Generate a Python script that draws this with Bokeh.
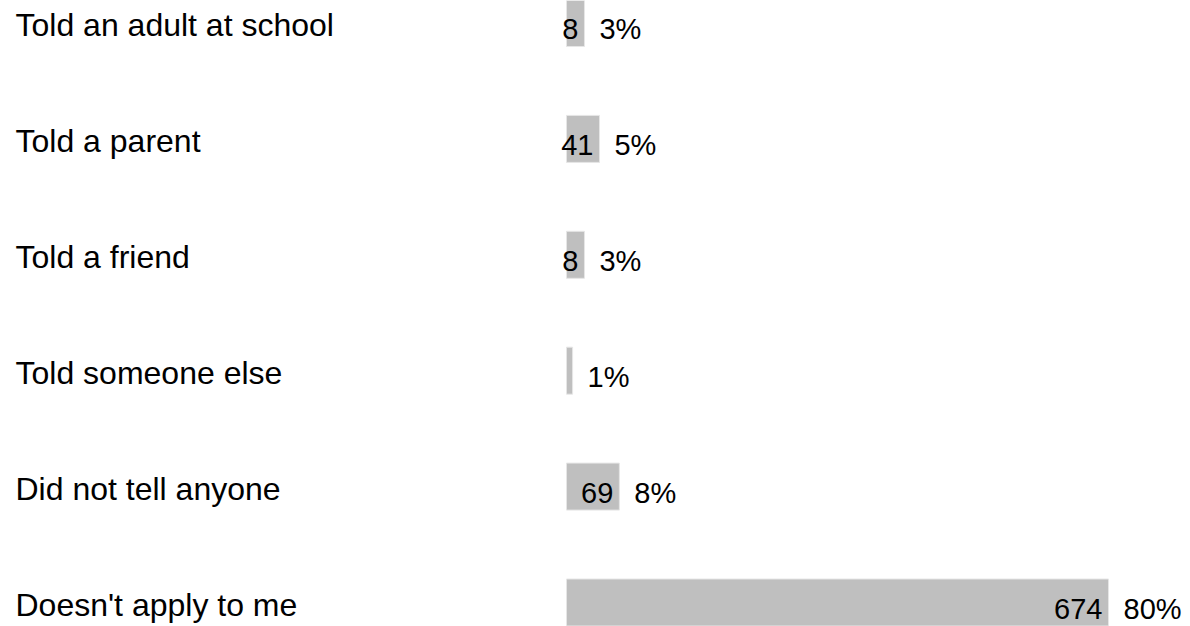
from bokeh.plotting import figure
from bokeh.models import ColumnDataSource, Range1d
from bokeh.core.properties import value
from bokeh.embed import file_html
from bokeh.resources import INLINE

# ---- data ----
categories = ["Told an adult at school", "Told a parent", "Told a friend",
              "Told someone else", "Did not tell anyone", "Doesn't apply to me"]
counts = ["8", "41", "8", "", "69", "674"]
percent_values = [2.65, 4.87, 2.65, 0.9, 7.8, 80.0]
percent_labels = ["3%", "5%", "3%", "1%", "8%", "80%"]

# ---- layout (pixels) ----
W, H = 1190, 626
ROW_PX = 115.9          # distance between rows
FIRST_ROW_PX = 22.5     # centre of first row from top
BAR_X0_PX = 566         # where bars start
PX_PER_PCT = 542 / 80.0

rows = list(range(len(categories)))
x_start = -BAR_X0_PX / PX_PER_PCT
x_end = (W - BAR_X0_PX) / PX_PER_PCT
y_top = -FIRST_ROW_PX / ROW_PX
y_bottom = (H - FIRST_ROW_PX) / ROW_PX

src = ColumnDataSource(dict(
    row=rows,
    cat=categories,
    cnt=counts,
    pv=percent_values,
    pl=percent_labels,
    lab_y=[r + 2 / ROW_PX for r in rows],
    num_y=[r + 6 / ROW_PX for r in rows],
    lab_x=[x_start] * len(rows),
))

p = figure(width=W, height=H, output_backend="svg", toolbar_location=None,
           x_range=Range1d(x_start, x_end), y_range=Range1d(y_bottom, y_top),
           min_border=0, min_border_left=0, min_border_right=0,
           min_border_top=0, min_border_bottom=0)
p.axis.visible = False
p.xgrid.visible = False
p.ygrid.visible = False
p.outline_line_color = None
p.background_fill_color = "white"
p.border_fill_color = "white"

p.hbar(y="row", left=0, right="pv", height=47 / ROW_PX, source=src,
       fill_color="#bfbfbf", line_color="#e6e6e6", line_width=1)

FONT = value("Liberation Sans")

p.text(x="lab_x", y="lab_y", text="cat", source=src, x_offset=15,
       text_font=FONT, text_font_size="32px", text_color="black",
       text_align="left", text_baseline="alphabetic")

p.text(x="pv", y="num_y", text="cnt", source=src, x_offset=-6,
       text_font=FONT, text_font_size="29px", text_color="black",
       text_align="right", text_baseline="alphabetic")

p.text(x="pv", y="num_y", text="pl", source=src, x_offset=15,
       text_font=FONT, text_font_size="29px", text_color="black",
       text_align="left", text_baseline="alphabetic")

open("out.html", "w").write(file_html(p, INLINE))
